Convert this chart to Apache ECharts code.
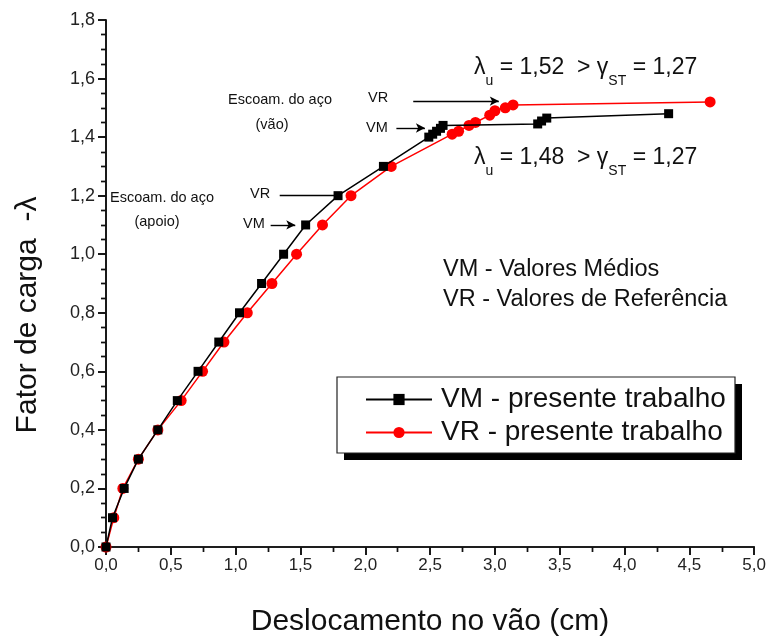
<!DOCTYPE html>
<html>
<head>
<meta charset="utf-8">
<script src="https://cdn.jsdelivr.net/npm/echarts@6/dist/echarts.min.js"></script>
<style>
  html, body { margin: 0; padding: 0; background: #fff; }
  #chart { width: 769px; height: 641px; }
</style>
</head>
<body>
<div id="chart"></div>
<script>
// Load factor vs. mid-span displacement
const vmX = [0, 0.05, 0.14, 0.25, 0.40, 0.55, 0.71, 0.87, 1.03, 1.20, 1.37, 1.54, 1.79, 2.14, 2.49, 2.52, 2.55, 2.58, 2.60, 3.33, 3.36, 3.40, 4.34];
const vmY = [0, 0.1, 0.2, 0.3, 0.4, 0.5, 0.6, 0.7, 0.8, 0.9, 1.0, 1.1, 1.2, 1.3, 1.40, 1.41, 1.42, 1.43, 1.44, 1.445, 1.455, 1.465, 1.48];
const vrX = [0, 0.06, 0.13, 0.25, 0.40, 0.58, 0.745, 0.91, 1.09, 1.28, 1.47, 1.67, 1.89, 2.20, 2.67, 2.72, 2.80, 2.85, 2.96, 3.00, 3.08, 3.14, 4.66];
const vrY = [0, 0.1, 0.2, 0.3, 0.4, 0.5, 0.6, 0.7, 0.8, 0.9, 1.0, 1.1, 1.2, 1.3, 1.41, 1.42, 1.44, 1.45, 1.475, 1.49, 1.50, 1.51, 1.52];

const seriesNames = ['VM - presente trabalho', 'VR - presente trabalho'];
const lambdaVM = '1,48';
const lambdaVR = '1,52';
const gammaST = '1,27';
const xTitle = 'Deslocamento no vão (cm)';
const yTitle = 'Fator de carga  -λ';

const FONT = 'Liberation Sans, Arial, sans-serif';
const comma = v => v.toFixed(1).replace('.', ',');

const pairs = (xs, ys) => xs.map((x, i) => [x, ys[i]]);

const chart = echarts.init(document.getElementById('chart'), null, { renderer: 'canvas' });

const axisLine = { show: true, lineStyle: { color: '#111', width: 1.6 } };

const option = {
  animation: false,
  backgroundColor: '#fff',
  grid: { left: 106, right: 12, top: 20, bottom: 94, containLabel: false },
  xAxis: [
    {
      type: 'value', min: 0, max: 5, interval: 0.5, position: 'bottom',
      axisLine, splitLine: { show: false },
      axisTick: { show: true, length: 8, lineStyle: { color: '#111', width: 1.6 } },
      minorTick: { show: true, splitNumber: 2, length: 5, lineStyle: { color: '#111', width: 1.4 } },
      axisLabel: { fontFamily: FONT, fontSize: 17, color: '#222', margin: 10, formatter: comma }
    },
    {
      type: 'value', min: 0, max: 5, interval: 0.5, position: 'top',
      axisLine, splitLine: { show: false },
      axisTick: { show: true, inside: true, length: 8, lineStyle: { color: '#111', width: 1.6 } },
      minorTick: { show: true, splitNumber: 2, length: 5, lineStyle: { color: '#111', width: 1.4 } },
      axisLabel: { show: false }
    }
  ],
  yAxis: [
    {
      type: 'value', min: 0, max: 1.8, interval: 0.2, position: 'left',
      axisLine, splitLine: { show: false },
      axisTick: { show: true, length: 8, lineStyle: { color: '#111', width: 1.6 } },
      minorTick: { show: true, splitNumber: 4, length: 5, lineStyle: { color: '#111', width: 1.4 } },
      axisLabel: { fontFamily: FONT, fontSize: 18, color: '#222', margin: 11, formatter: comma }
    },
    {
      type: 'value', min: 0, max: 1.8, interval: 0.2, position: 'right',
      axisLine, splitLine: { show: false },
      axisTick: { show: true, inside: true, length: 8, lineStyle: { color: '#111', width: 1.6 } },
      minorTick: { show: true, splitNumber: 4, length: 5, lineStyle: { color: '#111', width: 1.4 } },
      axisLabel: { show: false }
    }
  ],
  legend: {
    orient: 'vertical',
    left: 365, top: 384,
    padding: 0,
    itemGap: 2,
    itemWidth: 66, itemHeight: 14,
    z: 20,
    textStyle: { fontFamily: FONT, fontSize: 28, color: '#111', lineHeight: 31, padding: [0, 0, 0, 4] },
    data: seriesNames
  },
  series: [
    {
      name: seriesNames[0], type: 'line', data: pairs(vmX, vmY),
      symbol: 'rect', symbolSize: 9,
      lineStyle: { color: '#000', width: 1.5 },
      itemStyle: { color: '#000' },
      z: 3,
      markLine: {
        silent: true, animation: false,
        symbol: ['none', 'arrow'], symbolSize: [7, 9],
        label: { show: false },
        lineStyle: { color: '#000', width: 1.4, type: 'solid' },
        data: [
          [{ coord: [1.34, 1.2], symbol: 'none' }, { coord: [1.77, 1.2], symbol: 'none' }],
          [{ coord: [1.27, 1.1] }, { coord: [1.46, 1.1] }],
          [{ coord: [2.37, 1.523] }, { coord: [3.03, 1.523] }],
          [{ coord: [2.24, 1.431] }, { coord: [2.46, 1.431] }]
        ]
      }
    },
    {
      name: seriesNames[1], type: 'line', data: pairs(vrX, vrY),
      symbol: 'circle', symbolSize: 11,
      lineStyle: { color: '#ff0000', width: 1.5 },
      itemStyle: { color: '#ff0000' },
      z: 2
    }
  ]
};

chart.setOption(option);

// Annotation texts
const t = (text, x, y, size, align) => ({
  type: 'text', x, y, z: 10, silent: true,
  style: { text, fontFamily: FONT, fontSize: size, fill: '#111', align: align || 'left', verticalAlign: 'middle' }
});

const lambdaText = (val, x, y) => ({
  type: 'text', x, y, z: 10, silent: true,
  style: {
    text: '{n|λ}{s|u}{n| = ' + val + '  > γ}{s|ST}{n| = ' + gammaST + '}',
    fontFamily: FONT, fill: '#111', verticalAlign: 'middle',
    rich: {
      n: { fontFamily: FONT, fontSize: 23, fill: '#111', lineHeight: 28, verticalAlign: 'bottom' },
      s: { fontFamily: FONT, fontSize: 14, fill: '#111', lineHeight: 28, verticalAlign: 'bottom', padding: [0, 0, -9, 0] }
    }
  }
});

chart.setOption({
  graphic: [
    // legend frame with drop shadow
    { type: 'rect', z: 1, silent: true, shape: { x: 344, y: 384, width: 398, height: 76 }, style: { fill: '#000' } },
    { type: 'rect', z: 2, silent: true, shape: { x: 337, y: 377, width: 398, height: 76 }, style: { fill: '#fff', stroke: '#222', lineWidth: 1.2 } },
    // axis titles
    { type: 'text', x: 430, y: 622, z: 10, silent: true,
      style: { text: xTitle, fontFamily: FONT, fontSize: 30, fill: '#111', align: 'center', verticalAlign: 'middle' } },
    { type: 'text', x: 28, y: 315, rotation: Math.PI / 2, z: 10, silent: true,
      style: { text: yTitle, fontFamily: FONT, fontSize: 30, fill: '#111', align: 'center', verticalAlign: 'middle' } },
    t('Escoam. do aço', 280, 100, 14.5, 'center'),
    t('(vão)', 272, 125, 14.5, 'center'),
    t('VR', 368, 98, 14.5),
    t('VM', 366, 128, 14.5),
    t('Escoam. do aço', 162, 198, 14.5, 'center'),
    t('(apoio)', 157, 222, 14.5, 'center'),
    t('VR', 250, 194, 14.5),
    t('VM', 243, 224, 14.5),
    lambdaText(lambdaVR, 474, 65),
    lambdaText(lambdaVM, 474, 155),
    t('VM - Valores Médios', 443, 270, 23.5),
    t('VR - Valores de Referência', 443, 300, 23.5)
  ]
});
</script>
</body>
</html>
